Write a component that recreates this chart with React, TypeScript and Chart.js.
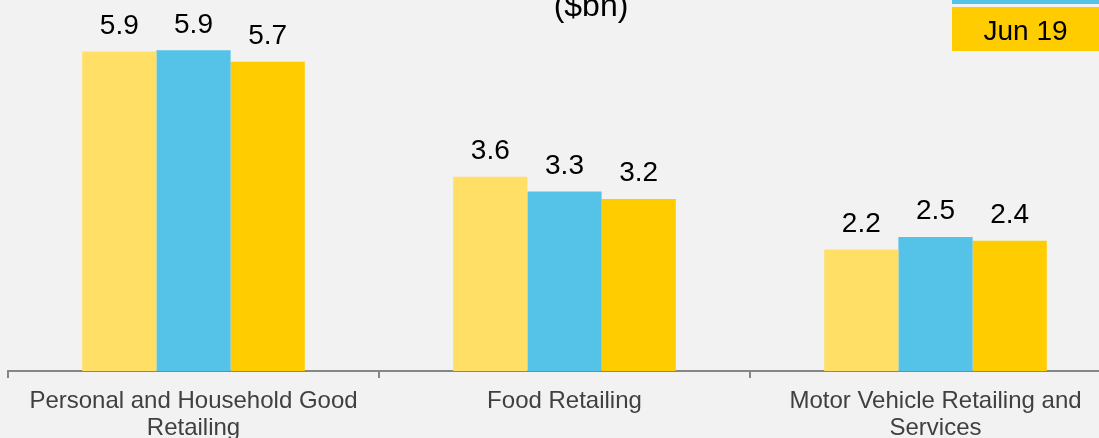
import React, { useEffect, useRef } from "react";
import { Chart, registerables } from "chart.js";

Chart.register(...registerables);

const FONT = '"Liberation Sans", Arial, Helvetica, sans-serif';

const categories = [
  ["Personal and Household Good", "Retailing"],
  ["Food Retailing"],
  ["Motor Vehicle Retailing and", "Services"],
];
const seriesLabels = ["Jun 17", "Jun 18", "Jun 19"];
const jun17 = [5.89, 3.58, 2.24];
const jun18 = [5.91, 3.31, 2.47];
const jun19 = [5.7, 3.17, 2.4];
const seriesColors = ["#FFDF66", "#55C2E8", "#FFCC00"];
const titleText = "($bn)";
const yMax = 6.8;

const overlayPlugin = {
  id: "overlay",
  afterDatasetsDraw(chart: any) {
    const ctx = chart.ctx;
    ctx.save();
    // value labels
    ctx.font = `28px ${FONT}`;
    ctx.fillStyle = "#000000";
    ctx.textAlign = "center";
    ctx.textBaseline = "alphabetic";
    chart.data.datasets.forEach((ds: any, i: number) => {
      const meta = chart.getDatasetMeta(i);
      meta.data.forEach((el: any, j: number) => {
        const v = ds.data[j] as number;
        ctx.fillText(v.toFixed(1), el.x, el.y - 17.5);
      });
    });
    // title
    ctx.font = `32px ${FONT}`;
    ctx.fillText(titleText, chart.width / 2, 16);
    // legend (boxes with text inside)
    const n = chart.data.datasets.length;
    const boxX = 952;
    const boxW = 147;
    const boxH = 44;
    const pitch = 47;
    const lastTop = 7;
    ctx.font = `28px ${FONT}`;
    chart.data.datasets.forEach((ds: any, i: number) => {
      const top = lastTop - (n - 1 - i) * pitch;
      ctx.fillStyle = ds.backgroundColor;
      ctx.fillRect(boxX, top, boxW, boxH);
      ctx.fillStyle = "#000000";
      ctx.fillText(ds.label, boxX + boxW / 2, top + 33);
    });
    ctx.restore();
  },
};

export default function App() {
  const canvasRef = useRef<HTMLCanvasElement | null>(null);

  useEffect(() => {
    if (!canvasRef.current) return;
    const series = [jun17, jun18, jun19];
    const chart = new Chart(canvasRef.current, {
      type: "bar",
      data: {
        labels: categories as any,
        datasets: series.map((d, i) => ({
          label: seriesLabels[i],
          data: d,
          backgroundColor: seriesColors[i],
          borderWidth: 0,
          barPercentage: 1,
          categoryPercentage: 0.6,
        })),
      },
      options: {
        responsive: false,
        animation: false,
        devicePixelRatio: 1,
        layout: { padding: { left: 8, right: 61, top: 2, bottom: 0 } },
        plugins: {
          legend: { display: false },
          title: { display: false },
          tooltip: { enabled: false },
        },
        scales: {
          x: {
            grid: {
              drawOnChartArea: false,
              drawTicks: true,
              tickLength: 7,
              color: "#868686",
              lineWidth: 2,
              offset: true,
            },
            border: { display: true, color: "#868686", width: 2 },
            ticks: {
              color: "#404040",
              font: { family: FONT, size: 24, lineHeight: 1.13 },
              padding: 10,
              maxRotation: 0,
              minRotation: 0,
              autoSkip: false,
            },
            afterFit: (s: any) => {
              s.height = 67;
            },
          },
          y: { display: false, min: 0, max: yMax },
        },
      },
      plugins: [overlayPlugin],
    });
    return () => chart.destroy();
  }, []);

  return (
    <div
      style={{
        position: "fixed",
        left: 0,
        top: 0,
        width: 1099,
        height: 438,
        overflow: "hidden",
        background: "#F2F2F2",
      }}
    >
      <canvas ref={canvasRef} width={1182} height={438} style={{ display: "block" }} />
    </div>
  );
}
